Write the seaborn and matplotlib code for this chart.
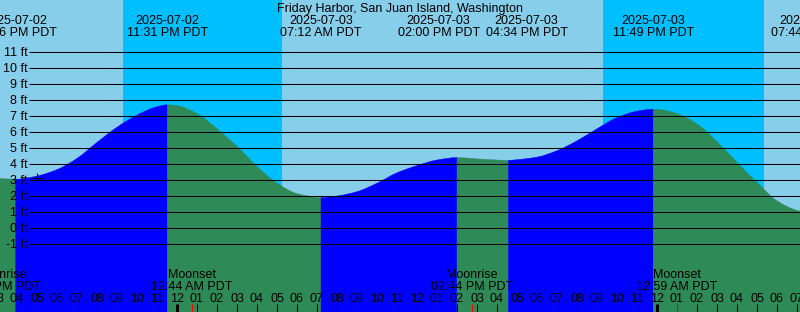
import numpy as np
import pandas as pd
import matplotlib
matplotlib.use("Agg")
import matplotlib.pyplot as plt
import matplotlib.transforms as mtransforms
from matplotlib.path import Path
from matplotlib.patches import PathPatch
import seaborn as sns

# ---------------- data (hours since 2025-07-02 00:00 PDT) ----------------
station = "Friday Harbor, San Juan Island, Washington"

hour_times = list(range(15, 56))
hour_heights = [3.1, 3.05, 3.25, 3.65, 4.35, 5.35, 6.3, 7.06, 7.58, 7.65,
                7.15, 6.2, 5.1, 3.85, 2.8, 2.15, 1.92, 2.0, 2.27, 2.8,
                3.45, 3.9, 4.25, 4.4, 4.32, 4.25, 4.27, 4.43, 4.83, 5.45,
                6.2, 6.9, 7.3, 7.42, 7.15, 6.5, 5.4, 4.1, 2.85, 1.7, 1.1]

ext_times = [15.93, 23.52, 31.2, 38.0, 40.567, 47.817, 55.733]
ext_heights = [3.05, 7.7, 1.9, 4.4, 4.23, 7.43, 0.9]
ext_kinds = ["low", "high", "low", "high", "low", "high", "low"]
ext_dates = ["2025-07-02", "2025-07-02", "2025-07-03", "2025-07-03",
             "2025-07-03", "2025-07-03", "2025-07-04"]
ext_clock = ["03:56 PM PDT", "11:31 PM PDT", "07:12 AM PDT", "02:00 PM PDT",
             "04:34 PM PDT", "11:49 PM PDT", "07:44 AM PDT"]

night_start = [21.3, 45.3]
night_end = [29.25, 53.35]

moon_times = [15.15, 24.733, 38.733, 48.983]
moon_events = ["Moonrise", "Moonset", "Moonrise", "Moonset"]
moon_clock = ["03:09 PM PDT", "12:44 AM PDT", "02:44 PM PDT", "12:59 AM PDT"]

mark_time, mark_height = 17.0, 3.1
grid_feet = list(range(-1, 12))

# ---------------- style ----------------
sns.set_theme(style="white")
plt.rcParams["font.family"] = ["Liberation Sans", "DejaVu Sans"]
FS = 9.0
DAY, NIGHT = "#87CEEB", "#00BFFF"
RISE, FALL = "#0000FF", "#2E8B57"

W, H = 800, 312
PX_PER_HOUR = 20
fig = plt.figure(figsize=(8, 3.12), dpi=100)
ax = fig.add_axes([0, 0, 1, 1])
ax.set_axis_off()
T0 = 15.15
ax.set_xlim(T0, T0 + W / PX_PER_HOUR)
ax.set_ylim(-5.25, 14.25)   # 16 px per ft, 0 ft at 228 px from top
BOTTOM = -6


def py2ax(py):
    return 1 - py / H


def px2t(px):
    return T0 + px / PX_PER_HOUR


def py2ft(py):
    return (228 - py) / 16


# background
ax.axvspan(T0 - 1, T0 + 41, color=DAY, lw=0, zorder=0)
for a, b in zip(night_start, night_end):
    ax.axvspan(a, b, color=NIGHT, lw=0, zorder=0.5)

# tide curve (smooth Bezier path through the read values)
df = pd.DataFrame({"t": hour_times + ext_times, "h": hour_heights + ext_heights})
df = df.sort_values("t").drop_duplicates("t").reset_index(drop=True)
xs, ys = df.t.values, df.h.values
hs = np.diff(xs)
ds = np.diff(ys) / hs
ms = np.zeros_like(ys)
ms[0], ms[-1] = ds[0], ds[-1]
for k in range(1, len(xs) - 1):
    if ds[k - 1] * ds[k] <= 0:
        ms[k] = 0.0
    else:
        w1 = 2 * hs[k] + hs[k - 1]
        w2 = hs[k] + 2 * hs[k - 1]
        ms[k] = (w1 + w2) / (w1 / ds[k - 1] + w2 / ds[k])

bounds = [xs.min()] + ext_times + [xs.max()]
kinds_next = ext_kinds + ["high" if ext_kinds[-1] == "low" else "low"]
for i in range(len(bounds) - 1):
    a, b = bounds[i], bounds[i + 1]
    idx = np.where((xs >= a) & (xs <= b))[0]
    if len(idx) < 2:
        continue
    c = RISE if kinds_next[i] == "high" else FALL
    verts = [(xs[idx[0]], BOTTOM), (xs[idx[0]], ys[idx[0]])]
    codes = [Path.MOVETO, Path.LINETO]
    for j0, j1 in zip(idx[:-1], idx[1:]):
        dt = xs[j1] - xs[j0]
        verts += [(xs[j0] + dt / 3, ys[j0] + ms[j0] * dt / 3),
                  (xs[j1] - dt / 3, ys[j1] - ms[j1] * dt / 3),
                  (xs[j1], ys[j1])]
        codes += [Path.CURVE4] * 3
    verts += [(xs[idx[-1]], BOTTOM), (xs[idx[0]], BOTTOM)]
    codes += [Path.LINETO, Path.CLOSEPOLY]
    ax.add_patch(PathPatch(Path(verts, codes), facecolor=c, edgecolor=c,
                           lw=0.3, zorder=1))

# grid lines and labels
ax.hlines(grid_feet, px2t(29), T0 + 41, color="black", lw=0.75, zorder=2)
ylab_tr = mtransforms.blended_transform_factory(ax.transAxes, ax.transData)
for f in grid_feet:
    ax.text(27.5 / W, f - 4.4 / 16, f"{f} ft", transform=ylab_tr, ha="right",
            va="baseline", fontsize=FS, color="black", zorder=3)

# mark
sns.scatterplot(x=[mark_time], y=[mark_height], marker="+", s=45,
                linewidth=0.8, color="black", ax=ax, zorder=3, legend=False)

# title and tide event labels (labels pushed apart when they would collide)
top_tr = mtransforms.blended_transform_factory(ax.transData, ax.transAxes)
ax.text(0.5, py2ax(12), station, transform=ax.transAxes, ha="center",
        va="baseline", fontsize=FS, color="black", zorder=3)
MIN_SEP = 88 / PX_PER_HOUR
label_pos = list(ext_times)
for k in range(len(label_pos) - 1):
    gap = label_pos[k + 1] - label_pos[k]
    if gap < MIN_SEP:
        push = (MIN_SEP - gap) / 2
        label_pos[k] -= push
        label_pos[k + 1] += push
for t, d, c in zip(label_pos, ext_dates, ext_clock):
    ax.text(t, py2ax(24), d, transform=top_tr, ha="center", va="baseline",
            fontsize=FS, color="black", zorder=3)
    ax.text(t, py2ax(36), c, transform=top_tr, ha="center", va="baseline",
            fontsize=FS, color="black", zorder=3)

# moon labels
for t, e, c in zip(moon_times, moon_events, moon_clock):
    ax.text(t + 0.02, py2ax(278.5), e, transform=top_tr, ha="center",
            va="baseline", fontsize=FS, color="black", zorder=3)
    ax.text(t + 0.02, py2ax(290), c, transform=top_tr, ha="center",
            va="baseline", fontsize=FS, color="black", zorder=3)

# hour ticks
hours = np.arange(15, 56)
for hr in hours:
    lab = f"{(hr % 12) or 12:02d}"
    ax.text(hr, py2ax(302), lab, transform=top_tr, ha="center", va="baseline",
            fontsize=FS, color="black", zorder=3)
    midnight = hr % 24 == 0
    ax.vlines(hr, py2ft(313), py2ft(304), color="black",
              lw=2.16 if midnight else 0.75, zorder=3)
for t in moon_times[1:]:
    ax.vlines(t, py2ft(313), py2ft(304), color="#FF0000", lw=0.75, zorder=3)

fig.savefig("out.png", dpi=100)
